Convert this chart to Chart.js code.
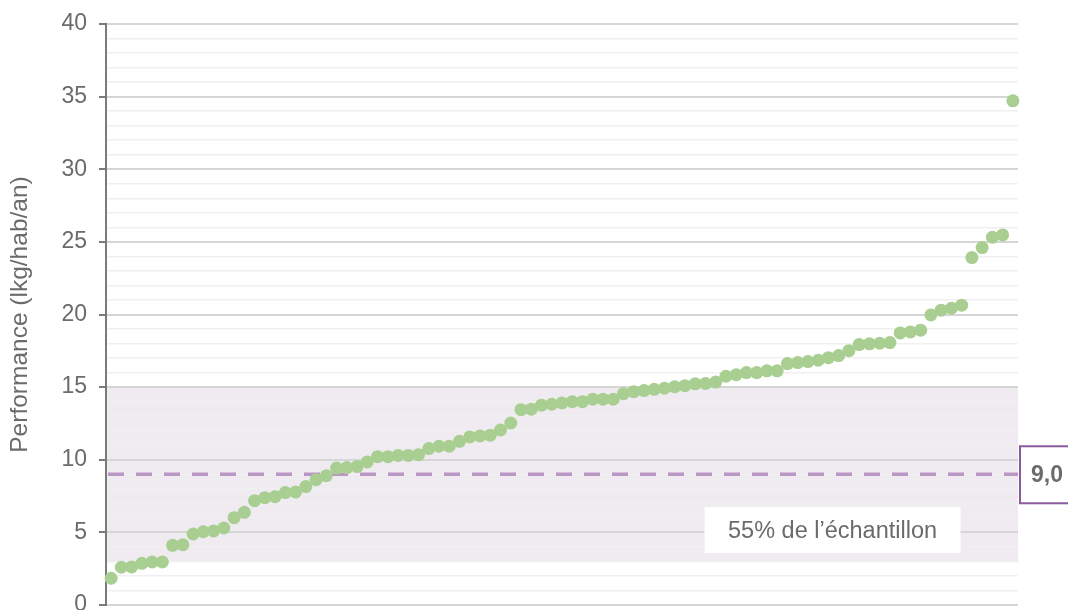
<!DOCTYPE html>
<html>
<head>
<meta charset="utf-8">
<script src="https://cdn.jsdelivr.net/npm/chart.js@4/dist/chart.umd.min.js"></script>
<style>
  html, body { margin: 0; padding: 0; background: #fff; overflow: hidden; }
  #wrap { width: 1068px; height: 610px; position: relative; }
</style>
</head>
<body>
<div id="wrap"><canvas id="chart"></canvas></div>
<script>
// valeurs, triées (kg/hab/an)
var valeurs = [
  1.84, 2.60, 2.62, 2.87, 2.96, 2.96, 4.11, 4.15, 4.89, 5.05,
  5.10, 5.30, 6.01, 6.38, 7.18, 7.39, 7.46, 7.74, 7.78, 8.15,
  8.63, 8.90, 9.43, 9.46, 9.53, 9.85, 10.21, 10.21, 10.30, 10.30,
  10.35, 10.77, 10.93, 10.93, 11.27, 11.57, 11.64, 11.69, 12.05, 12.53,
  13.45, 13.48, 13.76, 13.82, 13.91, 14.00, 14.00, 14.17, 14.17, 14.17,
  14.55, 14.69, 14.76, 14.85, 14.93, 15.03, 15.10, 15.23, 15.25, 15.35,
  15.75, 15.86, 16.00, 16.00, 16.12, 16.12, 16.62, 16.69, 16.76, 16.85,
  17.03, 17.17, 17.51, 17.93, 17.98, 18.02, 18.07, 18.73, 18.80, 18.92,
  19.97, 20.30, 20.43, 20.64, 23.92, 24.61, 25.32, 25.48, 34.71
];
var mediane = 9.0;
var medianeLabel = "9,0";
var bande = [3, 15];
var bandeLabel = "55% de l’échantillon";
var yTicks = [0, 5, 10, 15, 20, 25, 30, 35, 40];
var yTitre = "Performance (lkg/hab/an)";

var police = '"Liberation Sans", Arial, sans-serif';
var gris = '#6b6b6b';

var points = valeurs.map(function (v, i) { return { x: i, y: v }; });

var annotations = {
  id: 'annotations',
  beforeDraw: function (chart) {
    var ctx = chart.ctx, a = chart.chartArea, y = chart.scales.y;
    var top = y.getPixelForValue(bande[1]), bot = y.getPixelForValue(bande[0]);
    ctx.save();
    ctx.fillStyle = '#f0ebf0';
    ctx.fillRect(a.left, top, a.right - a.left, bot - top);
    ctx.restore();
  },
  beforeDatasetsDraw: function (chart) {
    var ctx = chart.ctx, a = chart.chartArea, y = chart.scales.y;
    var py = y.getPixelForValue(mediane);
    ctx.save();
    ctx.strokeStyle = '#b996c4';
    ctx.lineWidth = 3.5;
    ctx.setLineDash([16, 12]);
    ctx.beginPath();
    ctx.moveTo(a.left + 2, py);
    ctx.lineTo(a.right, py);
    ctx.stroke();
    ctx.restore();
  },
  afterDraw: function (chart) {
    var ctx = chart.ctx, a = chart.chartArea, x = chart.scales.x, y = chart.scales.y;
    ctx.save();
    // étiquette de la médiane
    var py = y.getPixelForValue(mediane);
    ctx.fillStyle = '#fff';
    ctx.fillRect(a.right + 2, py - 28, 60, 57);
    ctx.strokeStyle = '#8a5a9c';
    ctx.lineWidth = 2;
    ctx.strokeRect(a.right + 2, py - 28, 60, 57);
    ctx.fillStyle = gris;
    ctx.font = 'bold 23px ' + police;
    ctx.textAlign = 'left';
    ctx.textBaseline = 'middle';
    ctx.fillText(medianeLabel, a.right + 13, py + 1);
    // étiquette de la bande
    var cx = x.getPixelForValue(70.4), cy = y.getPixelForValue(5.17);
    ctx.fillStyle = '#fff';
    ctx.fillRect(cx - 128, cy - 23, 256, 46);
    ctx.fillStyle = gris;
    ctx.font = '23.5px ' + police;
    ctx.textAlign = 'center';
    ctx.fillText(bandeLabel, cx, cy + 2);
    ctx.restore();
  }
};

new Chart(document.getElementById('chart'), {
  type: 'scatter',
  data: {
    datasets: [{
      data: points,
      backgroundColor: '#a8cf91',
      borderWidth: 0,
      pointRadius: 6.5,
      pointHoverRadius: 6.5,
      clip: false
    }]
  },
  options: {
    responsive: true,
    maintainAspectRatio: false,
    animation: false,
    events: [],
    layout: { autoPadding: false, padding: { top: 24, right: 50, bottom: 5, left: 0 } },
    plugins: { legend: { display: false }, tooltip: { enabled: false } },
    scales: {
      x: {
        display: false,
        min: -0.5,
        max: valeurs.length - 0.5
      },
      y: {
        min: 0,
        max: 40,
        afterFit: function (s) {
          s.width = 106;
          s.paddingTop = 0;
          s.paddingBottom = 0;
        },
        ticks: {
          stepSize: 1,
          autoSkip: false,
          color: gris,
          font: { family: police, size: 23 },
          padding: 12,
          callback: function (v) { return yTicks.indexOf(v) >= 0 ? String(v) : ''; }
        },
        grid: {
          drawTicks: true,
          tickLength: 7,
          color: function (c) { return c.tick && c.tick.value % 5 === 0 ? '#d6d6d6' : '#f0f0f0'; },
          lineWidth: function (c) { return c.tick && c.tick.value % 5 === 0 ? 2 : 1.5; },
          tickColor: function (c) { return c.tick && c.tick.value % 5 === 0 ? '#7a7a7a' : 'rgba(0,0,0,0)'; },
          tickWidth: 2
        },
        border: { display: true, color: '#7a7a7a', width: 2 },
        title: {
          display: true,
          text: yTitre,
          color: gris,
          font: { family: police, size: 24.5 },
          padding: { top: 6, bottom: 0 }
        }
      }
    }
  },
  plugins: [annotations]
});
</script>
</body>
</html>
